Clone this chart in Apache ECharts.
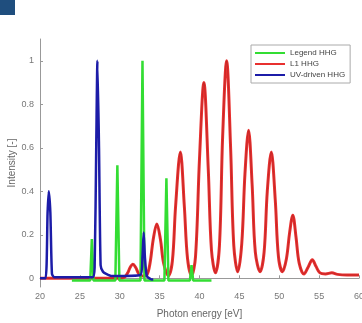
<!DOCTYPE html>
<html>
<head>
<meta charset="utf-8">
<script src="https://cdn.jsdelivr.net/npm/echarts@6/dist/echarts.min.js"></script>
<style>
  html, body { margin: 0; padding: 0; background: #fff; }
  #chart { width: 362px; height: 323px; }
</style>
</head>
<body>
<div id="chart"></div>
<script>
// values: [photon energy eV, intensity]
const legendHHG = [
  [24, -0.01], [26.3, -0.01], [26.5, 0.18], [26.7, -0.01],
  [29.45, -0.01], [29.7, 0.52], [29.95, -0.01],
  [32.6, -0.01], [32.85, 1.0], [33.1, -0.01],
  [35.6, -0.01], [35.85, 0.46], [36.1, -0.01],
  [38.8, -0.01], [39.0, 0.06], [39.2, -0.01], [41.5, -0.01]
]
const l1HHG = [
  [20, 0], [30, 0], [30.6, 0.005], [31.0, 0.025], [31.3, 0.05], [31.65, 0.065], [32.0, 0.05], [32.4, 0.02],
  [32.9, 0.01], [33.4, 0.015], [33.8, 0.07], [34.2, 0.18], [34.65, 0.25], [35.1, 0.18], [35.5, 0.07],
  [36.1, 0.012], [36.6, 0.08], [37.0, 0.33], [37.6, 0.58], [38.1, 0.33], [38.5, 0.09],
  [39.0, 0.012], [39.5, 0.1], [40.0, 0.55], [40.55, 0.9], [41.1, 0.5], [41.5, 0.13],
  [42.0, 0.025], [42.5, 0.15], [42.9, 0.65], [43.4, 1.0], [43.9, 0.6], [44.3, 0.15],
  [44.8, 0.03], [45.3, 0.16], [45.7, 0.48], [46.15, 0.68], [46.6, 0.43], [47.0, 0.12],
  [47.6, 0.03], [48.1, 0.12], [48.5, 0.4], [49.0, 0.58], [49.5, 0.36], [49.9, 0.1],
  [50.4, 0.03], [50.9, 0.09], [51.3, 0.21], [51.7, 0.29], [52.1, 0.19], [52.5, 0.07],
  [53.1, 0.02], [53.6, 0.05], [54.15, 0.085], [54.6, 0.055], [55.1, 0.025],
  [55.8, 0.02], [56.6, 0.025], [57.3, 0.018], [58.5, 0.015], [60, 0.015]
]
const uvHHG = [
  [20, 0], [20.7, 0], [20.95, 0.3], [21.1, 0.4], [21.3, 0.3], [21.5, 0.02], [21.8, 0.005],
  [26.6, 0.005], [26.85, 0.05], [27.05, 0.6], [27.2, 1.0], [27.4, 0.6], [27.6, 0.06],
  [27.9, 0.03], [28.3, 0.02], [29, 0.01], [32.6, 0.015], [32.85, 0.1], [33.0, 0.21],
  [33.15, 0.1], [33.4, 0.01], [34.0, -0.005], [34.2, -0.005]
]
const yTicks = [0, 0.2, 0.4, 0.6, 0.8, 1]

const chart = echarts.init(document.getElementById('chart'))

const option = {
  animation: false,
  grid: { left: 40, right: 3, top: 39, bottom: 36, outerBoundsMode: 'none' },
  graphic: [{
    type: 'rect',
    shape: { x: 0, y: 0, width: 15, height: 15 },
    style: { fill: '#1f4e7e' }
  }],
  legend: {
    data: ['Legend HHG', 'L1 HHG', 'UV-driven HHG'],
    orient: 'vertical',
    left: 251,
    top: 45,
    width: 101,
    padding: [4, 5, 4, 4],
    itemGap: 3,
    itemWidth: 30,
    itemHeight: 2,
    icon: 'rect',
    borderColor: '#aaa',
    borderWidth: 1,
    backgroundColor: '#fff',
    textStyle: { fontSize: 8, color: '#444', fontFamily: 'Liberation Sans' }
  },
  xAxis: {
    type: 'value',
    min: 20,
    max: 60,
    interval: 5,
    name: 'Photon energy [eV]',
    nameLocation: 'middle',
    nameGap: 22,
    nameMoveOverlap: false,
    nameTextStyle: { fontSize: 10, color: '#666', fontFamily: 'Liberation Sans' },
    axisLine: { lineStyle: { color: '#999' } },
    axisTick: { inside: true, length: 3, lineStyle: { color: '#999' } },
    axisLabel: { fontSize: 9, color: '#777', margin: 5, fontFamily: 'Liberation Sans' },
    splitLine: { show: false }
  },
  yAxis: {
    type: 'value',
    min: -0.04,
    max: 1.1,
    name: 'Intensity [-]',
    nameLocation: 'middle',
    nameGap: 23,
    nameMoveOverlap: false,
    nameTextStyle: { fontSize: 10, color: '#666', fontFamily: 'Liberation Sans' },
    axisLine: { show: true, lineStyle: { color: '#999' } },
    axisTick: { show: true, inside: true, length: 3, customValues: yTicks, lineStyle: { color: '#999' } },
    axisLabel: { fontSize: 9, color: '#777', margin: 6, customValues: yTicks, fontFamily: 'Liberation Sans' },
    splitLine: { show: false }
  },
  series: [
    {
      name: 'L1 HHG',
      type: 'line',
      data: l1HHG,
      smooth: 0.35,
      symbol: 'none',
      color: '#e8302f',
      lineStyle: { width: 3, color: '#e8302f' },
      z: 2
    },
    {
      name: 'L1 core',
      type: 'line',
      data: l1HHG,
      smooth: 0.35,
      symbol: 'none',
      lineStyle: { width: 0.6, color: '#8a1c1c', opacity: 0.6 },
      z: 3
    },
    {
      name: 'Legend HHG',
      type: 'line',
      data: legendHHG,
      symbol: 'none',
      color: '#33dd33',
      lineStyle: { width: 2.5, color: '#33dd33' },
      z: 4
    },
    {
      name: 'UV-driven HHG',
      type: 'line',
      data: uvHHG,
      smooth: 0.2,
      symbol: 'none',
      color: '#1c1ca8',
      lineStyle: { width: 2.5, color: '#1c1ca8' },
      z: 5
    }
  ]
}

chart.setOption(option)
</script>
</body>
</html>
